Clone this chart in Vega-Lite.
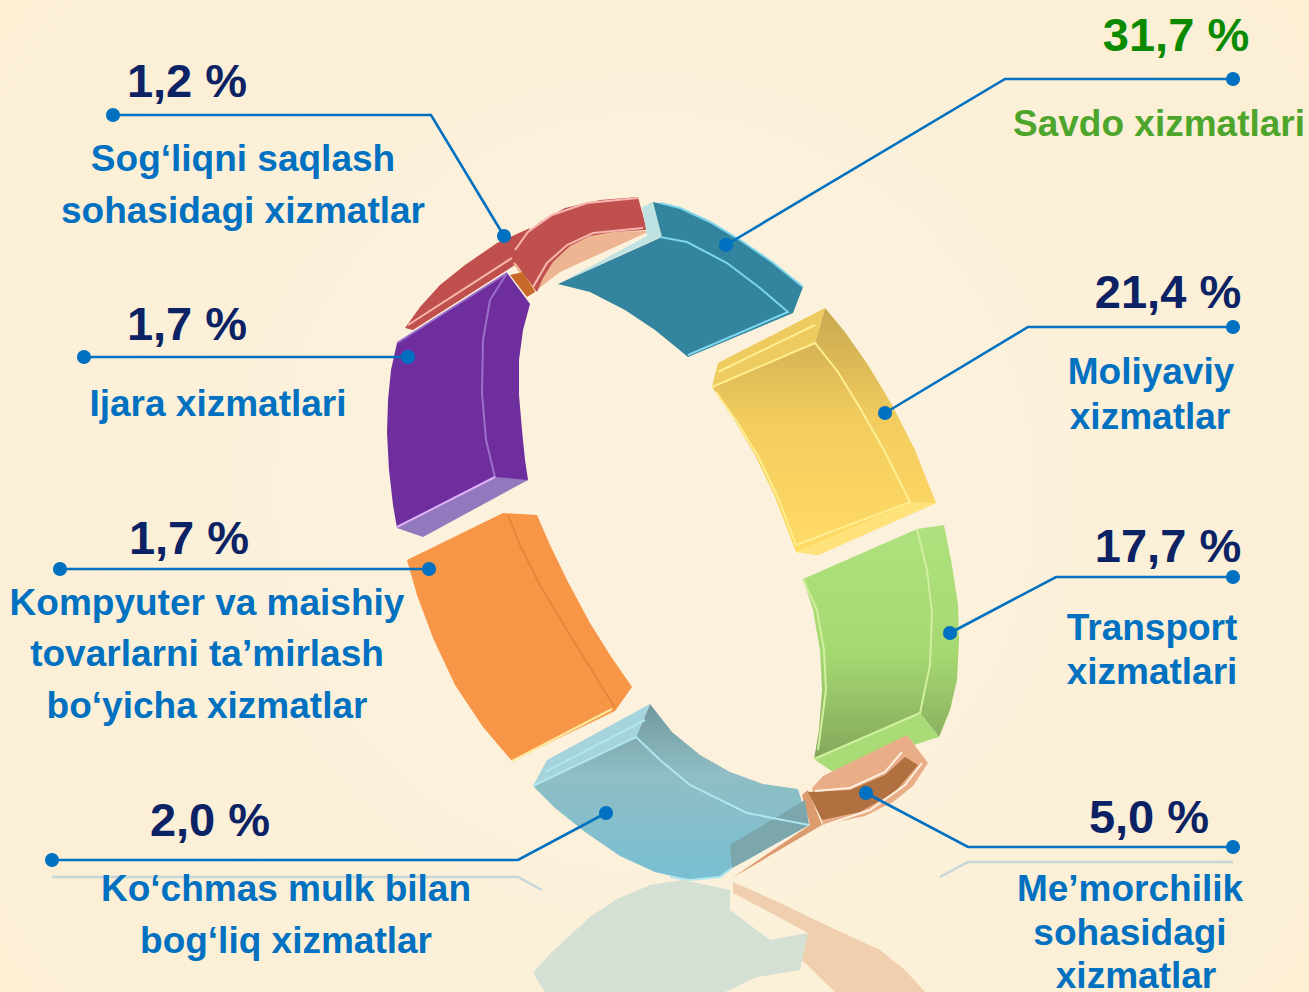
{"$schema":"https://vega.github.io/schema/vega-lite/v6.json","width":1309,"height":992,"autosize":"none","padding":0,"background":"#FBEFD6","config":{"view":{"stroke":null}},
"resolve":{"scale":{"color":"independent"}},
"datasets":{
"bg":[{"x":0,"x2":1309,"y":0,"y2":992}],
"flat":[
{"p":"reflBlue","i":1,"x":533,"y":973},{"p":"reflBlue","i":2,"x":548,"y":956},{"p":"reflBlue","i":3,"x":567,"y":938},{"p":"reflBlue","i":4,"x":590,"y":917},{"p":"reflBlue","i":5,"x":617,"y":899},{"p":"reflBlue","i":6,"x":650,"y":885},{"p":"reflBlue","i":7,"x":683,"y":880},{"p":"reflBlue","i":8,"x":730,"y":890},{"p":"reflBlue","i":9,"x":730,"y":910},{"p":"reflBlue","i":10,"x":770,"y":940},{"p":"reflBlue","i":11,"x":808,"y":933},{"p":"reflBlue","i":12,"x":800,"y":970},{"p":"reflBlue","i":13,"x":757,"y":977},{"p":"reflBlue","i":14,"x":725,"y":992},{"p":"reflBlue","i":15,"x":545,"y":992},
{"p":"reflPeach","i":1,"x":733,"y":882},{"p":"reflPeach","i":2,"x":780,"y":903},{"p":"reflPeach","i":3,"x":830,"y":927},{"p":"reflPeach","i":4,"x":880,"y":950},{"p":"reflPeach","i":5,"x":905,"y":970},{"p":"reflPeach","i":6,"x":925,"y":992},{"p":"reflPeach","i":7,"x":835,"y":992},{"p":"reflPeach","i":8,"x":802,"y":960},{"p":"reflPeach","i":9,"x":808,"y":933},{"p":"reflPeach","i":10,"x":775,"y":915},{"p":"reflPeach","i":11,"x":733,"y":893},
{"p":"redBack","i":1,"x":405,"y":328},{"p":"redBack","i":2,"x":420,"y":307},{"p":"redBack","i":3,"x":440,"y":285},{"p":"redBack","i":4,"x":465,"y":265},{"p":"redBack","i":5,"x":497,"y":243},{"p":"redBack","i":6,"x":530,"y":228},{"p":"redBack","i":7,"x":515,"y":265},{"p":"redBack","i":8,"x":413,"y":330},
{"p":"peach","i":1,"x":513,"y":263},{"p":"peach","i":2,"x":533,"y":293},{"p":"peach","i":3,"x":560,"y":272},{"p":"peach","i":4,"x":650,"y":231},{"p":"peach","i":5,"x":590,"y":232},{"p":"peach","i":6,"x":550,"y":252},
{"p":"orangeDark","i":1,"x":510,"y":275},{"p":"orangeDark","i":2,"x":523,"y":272},{"p":"orangeDark","i":3,"x":535,"y":292},{"p":"orangeDark","i":4,"x":527,"y":297},
{"p":"red","i":1,"x":512,"y":258},{"p":"red","i":2,"x":522,"y":238},{"p":"red","i":3,"x":540,"y":222},{"p":"red","i":4,"x":565,"y":208},{"p":"red","i":5,"x":600,"y":200},{"p":"red","i":6,"x":638,"y":197},{"p":"red","i":7,"x":647,"y":230},{"p":"red","i":8,"x":613,"y":232},{"p":"red","i":9,"x":590,"y":236},{"p":"red","i":10,"x":570,"y":246},{"p":"red","i":11,"x":553,"y":262},{"p":"red","i":12,"x":543,"y":278},{"p":"red","i":13,"x":537,"y":292},
{"p":"tealStrip","i":1,"x":642,"y":207},{"p":"tealStrip","i":2,"x":653,"y":202},{"p":"tealStrip","i":3,"x":662,"y":236},{"p":"tealStrip","i":4,"x":558,"y":284},{"p":"tealStrip","i":5,"x":647,"y":236},
{"p":"teal","i":1,"x":653,"y":202},{"p":"teal","i":2,"x":680,"y":208},{"p":"teal","i":3,"x":710,"y":222},{"p":"teal","i":4,"x":740,"y":240},{"p":"teal","i":5,"x":772,"y":262},{"p":"teal","i":6,"x":803,"y":287},{"p":"teal","i":7,"x":793,"y":313},{"p":"teal","i":8,"x":688,"y":357},{"p":"teal","i":9,"x":655,"y":330},{"p":"teal","i":10,"x":625,"y":310},{"p":"teal","i":11,"x":590,"y":292},{"p":"teal","i":12,"x":558,"y":284},{"p":"teal","i":13,"x":662,"y":237},
{"p":"purple","i":1,"x":397,"y":343},{"p":"purple","i":2,"x":507,"y":273},{"p":"purple","i":3,"x":530,"y":304},{"p":"purple","i":4,"x":523,"y":330},{"p":"purple","i":5,"x":519,"y":360},{"p":"purple","i":6,"x":519,"y":395},{"p":"purple","i":7,"x":522,"y":430},{"p":"purple","i":8,"x":525,"y":460},{"p":"purple","i":9,"x":528,"y":480},{"p":"purple","i":10,"x":397,"y":528},{"p":"purple","i":11,"x":393,"y":505},{"p":"purple","i":12,"x":389,"y":470},{"p":"purple","i":13,"x":387,"y":433},{"p":"purple","i":14,"x":388,"y":400},{"p":"purple","i":15,"x":391,"y":370},
{"p":"purpleStrip","i":1,"x":397,"y":528},{"p":"purpleStrip","i":2,"x":495,"y":477},{"p":"purpleStrip","i":3,"x":528,"y":480},{"p":"purpleStrip","i":4,"x":423,"y":537},
{"p":"orange","i":1,"x":407,"y":560},{"p":"orange","i":2,"x":503,"y":513},{"p":"orange","i":3,"x":537,"y":515},{"p":"orange","i":4,"x":550,"y":545},{"p":"orange","i":5,"x":568,"y":582},{"p":"orange","i":6,"x":590,"y":623},{"p":"orange","i":7,"x":610,"y":655},{"p":"orange","i":8,"x":632,"y":687},{"p":"orange","i":9,"x":615,"y":711},{"p":"orange","i":10,"x":512,"y":761},{"p":"orange","i":11,"x":483,"y":727},{"p":"orange","i":12,"x":455,"y":685},{"p":"orange","i":13,"x":433,"y":638},{"p":"orange","i":14,"x":417,"y":595},
{"p":"yellowTop","i":1,"x":712,"y":387},{"p":"yellowTop","i":2,"x":718,"y":363},{"p":"yellowTop","i":3,"x":825,"y":308},{"p":"yellowTop","i":4,"x":815,"y":343},
{"p":"yellowBottom","i":1,"x":796,"y":552},{"p":"yellowBottom","i":2,"x":818,"y":555},{"p":"yellowBottom","i":3,"x":936,"y":503},{"p":"yellowBottom","i":4,"x":910,"y":502},
{"p":"greenBottom","i":1,"x":814,"y":759},{"p":"greenBottom","i":2,"x":920,"y":713},{"p":"greenBottom","i":3,"x":939,"y":737},{"p":"greenBottom","i":4,"x":920,"y":743},{"p":"greenBottom","i":5,"x":833,"y":772},
{"p":"sliver","i":1,"x":802,"y":795},{"p":"sliver","i":2,"x":808,"y":790},{"p":"sliver","i":3,"x":822,"y":825},{"p":"sliver","i":4,"x":732,"y":878},{"p":"sliver","i":5,"x":810,"y":825},
{"p":"lens","i":1,"x":812,"y":788},{"p":"lens","i":2,"x":823,"y":776},{"p":"lens","i":3,"x":907,"y":735},{"p":"lens","i":4,"x":928,"y":763},{"p":"lens","i":5,"x":913,"y":786},{"p":"lens","i":6,"x":893,"y":802},{"p":"lens","i":7,"x":865,"y":816},{"p":"lens","i":8,"x":823,"y":825},
{"p":"brown","i":1,"x":808,"y":792},{"p":"brown","i":2,"x":850,"y":790},{"p":"brown","i":3,"x":885,"y":775},{"p":"brown","i":4,"x":905,"y":757},{"p":"brown","i":5,"x":918,"y":765},{"p":"brown","i":6,"x":895,"y":792},{"p":"brown","i":7,"x":860,"y":812},{"p":"brown","i":8,"x":822,"y":820}
],
"gradYellow":[
{"p":"main","i":1,"x":815,"y":343},{"p":"main","i":2,"x":825,"y":308},{"p":"main","i":3,"x":845,"y":332},{"p":"main","i":4,"x":868,"y":365},{"p":"main","i":5,"x":892,"y":405},{"p":"main","i":6,"x":915,"y":450},{"p":"main","i":7,"x":928,"y":483},{"p":"main","i":8,"x":936,"y":503},{"p":"main","i":9,"x":818,"y":555},{"p":"main","i":10,"x":796,"y":552},{"p":"main","i":11,"x":775,"y":497},{"p":"main","i":12,"x":755,"y":455},{"p":"main","i":13,"x":733,"y":418},{"p":"main","i":14,"x":712,"y":387}
],
"gradGreen":[
{"p":"main","i":1,"x":803,"y":579},{"p":"main","i":2,"x":917,"y":529},{"p":"main","i":3,"x":944,"y":525},{"p":"main","i":4,"x":952,"y":565},{"p":"main","i":5,"x":958,"y":605},{"p":"main","i":6,"x":959,"y":640},{"p":"main","i":7,"x":957,"y":680},{"p":"main","i":8,"x":950,"y":710},{"p":"main","i":9,"x":939,"y":737},{"p":"main","i":10,"x":920,"y":713},{"p":"main","i":11,"x":814,"y":759},{"p":"main","i":12,"x":819,"y":730},{"p":"main","i":13,"x":822,"y":690},{"p":"main","i":14,"x":820,"y":650},{"p":"main","i":15,"x":813,"y":610}
],
"gradBlue":[
{"p":"main","i":1,"x":533,"y":786},{"p":"main","i":2,"x":636,"y":737},{"p":"main","i":3,"x":650,"y":704},{"p":"main","i":4,"x":672,"y":732},{"p":"main","i":5,"x":700,"y":755},{"p":"main","i":6,"x":730,"y":772},{"p":"main","i":7,"x":763,"y":784},{"p":"main","i":8,"x":798,"y":789},{"p":"main","i":9,"x":809,"y":825},{"p":"main","i":10,"x":747,"y":860},{"p":"main","i":11,"x":732,"y":868},{"p":"main","i":12,"x":720,"y":877},{"p":"main","i":13,"x":690,"y":880},{"p":"main","i":14,"x":655,"y":872},{"p":"main","i":15,"x":620,"y":856},{"p":"main","i":16,"x":585,"y":832},{"p":"main","i":17,"x":555,"y":808}
],
"overlay":[
{"p":"blueTop","i":1,"x":533,"y":786},{"p":"blueTop","i":2,"x":547,"y":760},{"p":"blueTop","i":3,"x":650,"y":704},{"p":"blueTop","i":4,"x":636,"y":737},
{"p":"blueBack","i":1,"x":730,"y":845},{"p":"blueBack","i":2,"x":805,"y":800},{"p":"blueBack","i":3,"x":809,"y":825},{"p":"blueBack","i":4,"x":732,"y":868}
],
"highlights":[
{"p":"h1","c":"purpleLine","i":1,"x":507,"y":273},{"p":"h1","c":"purpleLine","i":2,"x":490,"y":300},{"p":"h1","c":"purpleLine","i":3,"x":483,"y":340},{"p":"h1","c":"purpleLine","i":4,"x":482,"y":393},{"p":"h1","c":"purpleLine","i":5,"x":486,"y":440},{"p":"h1","c":"purpleLine","i":6,"x":495,"y":477},
{"p":"h2","c":"purpleLight","i":1,"x":397,"y":527},{"p":"h2","c":"purpleLight","i":2,"x":495,"y":477},
{"p":"h3","c":"purpleLine","i":1,"x":397,"y":343},{"p":"h3","c":"purpleLine","i":2,"x":507,"y":273},
{"p":"h4","c":"pink","i":1,"x":408,"y":325},{"p":"h4","c":"pink","i":2,"x":512,"y":258},
{"p":"h5","c":"pink","i":1,"x":533,"y":287},{"p":"h5","c":"pink","i":2,"x":547,"y":263},{"p":"h5","c":"pink","i":3,"x":567,"y":245},{"p":"h5","c":"pink","i":4,"x":593,"y":233},{"p":"h5","c":"pink","i":5,"x":643,"y":228},
{"p":"h6","c":"pink","i":1,"x":515,"y":250},{"p":"h6","c":"pink","i":2,"x":528,"y":232},{"p":"h6","c":"pink","i":3,"x":552,"y":215},{"p":"h6","c":"pink","i":4,"x":587,"y":203},{"p":"h6","c":"pink","i":5,"x":638,"y":198},
{"p":"h7","c":"tealLine","i":1,"x":660,"y":237},{"p":"h7","c":"tealLine","i":2,"x":687,"y":242},{"p":"h7","c":"tealLine","i":3,"x":727,"y":263},{"p":"h7","c":"tealLine","i":4,"x":760,"y":288},{"p":"h7","c":"tealLine","i":5,"x":788,"y":312},{"p":"h7","c":"tealLine","i":6,"x":688,"y":355},
{"p":"h8","c":"tealLine","i":1,"x":660,"y":203},{"p":"h8","c":"tealLine","i":2,"x":680,"y":208},{"p":"h8","c":"tealLine","i":3,"x":710,"y":222},{"p":"h8","c":"tealLine","i":4,"x":740,"y":240},{"p":"h8","c":"tealLine","i":5,"x":772,"y":262},{"p":"h8","c":"tealLine","i":6,"x":803,"y":287},
{"p":"h9","c":"yellowLine","i":1,"x":712,"y":387},{"p":"h9","c":"yellowLine","i":2,"x":815,"y":343},{"p":"h9","c":"yellowLine","i":3,"x":838,"y":372},{"p":"h9","c":"yellowLine","i":4,"x":860,"y":408},{"p":"h9","c":"yellowLine","i":5,"x":885,"y":452},{"p":"h9","c":"yellowLine","i":6,"x":910,"y":502},{"p":"h9","c":"yellowLine","i":7,"x":796,"y":545},
{"p":"h10","c":"yellowLine","i":1,"x":718,"y":372},{"p":"h10","c":"yellowLine","i":2,"x":815,"y":325},
{"p":"h11","c":"yellowLine","i":1,"x":716,"y":392},{"p":"h11","c":"yellowLine","i":2,"x":737,"y":422},{"p":"h11","c":"yellowLine","i":3,"x":759,"y":458},{"p":"h11","c":"yellowLine","i":4,"x":779,"y":500},{"p":"h11","c":"yellowLine","i":5,"x":796,"y":545},
{"p":"h12","c":"greenLine","i":1,"x":917,"y":529},{"p":"h12","c":"greenLine","i":2,"x":927,"y":570},{"p":"h12","c":"greenLine","i":3,"x":932,"y":613},{"p":"h12","c":"greenLine","i":4,"x":930,"y":665},{"p":"h12","c":"greenLine","i":5,"x":920,"y":713},{"p":"h12","c":"greenLine","i":6,"x":814,"y":759},
{"p":"h13","c":"greenLine","i":1,"x":803,"y":579},{"p":"h13","c":"greenLine","i":2,"x":817,"y":610},{"p":"h13","c":"greenLine","i":3,"x":824,"y":650},{"p":"h13","c":"greenLine","i":4,"x":826,"y":690},{"p":"h13","c":"greenLine","i":5,"x":818,"y":750},
{"p":"h14","c":"orangeLine","i":1,"x":512,"y":761},{"p":"h14","c":"orangeLine","i":2,"x":612,"y":709},
{"p":"h15","c":"orangeEdge","i":1,"x":508,"y":515},{"p":"h15","c":"orangeEdge","i":2,"x":520,"y":545},{"p":"h15","c":"orangeEdge","i":3,"x":540,"y":585},{"p":"h15","c":"orangeEdge","i":4,"x":570,"y":635},{"p":"h15","c":"orangeEdge","i":5,"x":615,"y":708},
{"p":"h16","c":"blueLine","i":1,"x":533,"y":786},{"p":"h16","c":"blueLine","i":2,"x":636,"y":737},{"p":"h16","c":"blueLine","i":3,"x":660,"y":760},{"p":"h16","c":"blueLine","i":4,"x":690,"y":785},{"p":"h16","c":"blueLine","i":5,"x":747,"y":813},{"p":"h16","c":"blueLine","i":6,"x":809,"y":825},
{"p":"h17","c":"blueLine","i":1,"x":545,"y":772},{"p":"h17","c":"blueLine","i":2,"x":645,"y":720},
{"p":"h18","c":"blueLine","i":1,"x":732,"y":868},{"p":"h18","c":"blueLine","i":2,"x":720,"y":877},{"p":"h18","c":"blueLine","i":3,"x":690,"y":880},{"p":"h18","c":"blueLine","i":4,"x":670,"y":877},
{"p":"h19","c":"peachLine","i":1,"x":815,"y":791},{"p":"h19","c":"peachLine","i":2,"x":850,"y":788},{"p":"h19","c":"peachLine","i":3,"x":885,"y":772},{"p":"h19","c":"peachLine","i":4,"x":902,"y":752},
{"p":"h20","c":"peachLine","i":1,"x":825,"y":825},{"p":"h20","c":"peachLine","i":2,"x":870,"y":810},{"p":"h20","c":"peachLine","i":3,"x":905,"y":785},{"p":"h20","c":"peachLine","i":4,"x":922,"y":763}
],
"leaders":[
{"s":"Savdo xizmatlari","i":1,"x":726,"y":245},{"s":"Savdo xizmatlari","i":2,"x":1005,"y":79},{"s":"Savdo xizmatlari","i":3,"x":1233,"y":79},
{"s":"Moliyaviy xizmatlar","i":1,"x":885,"y":413},{"s":"Moliyaviy xizmatlar","i":2,"x":1028,"y":327},{"s":"Moliyaviy xizmatlar","i":3,"x":1233,"y":327},
{"s":"Transport xizmatlari","i":1,"x":950,"y":633},{"s":"Transport xizmatlari","i":2,"x":1056,"y":577},{"s":"Transport xizmatlari","i":3,"x":1233,"y":577},
{"s":"Me’morchilik","i":1,"x":866,"y":793},{"s":"Me’morchilik","i":2,"x":968,"y":847},{"s":"Me’morchilik","i":3,"x":1233,"y":847},
{"s":"Ko‘chmas mulk","i":1,"x":606,"y":813},{"s":"Ko‘chmas mulk","i":2,"x":518,"y":860},{"s":"Ko‘chmas mulk","i":3,"x":52,"y":860},
{"s":"Kompyuter","i":1,"x":429,"y":569},{"s":"Kompyuter","i":2,"x":250,"y":569},{"s":"Kompyuter","i":3,"x":60,"y":569},
{"s":"Ijara","i":1,"x":408,"y":357},{"s":"Ijara","i":2,"x":250,"y":357},{"s":"Ijara","i":3,"x":84,"y":357},
{"s":"Sog‘liqni","i":1,"x":504,"y":236},{"s":"Sog‘liqni","i":2,"x":431,"y":115},{"s":"Sog‘liqni","i":3,"x":113,"y":115}
],
"leaderRefl":[
{"s":"left","i":1,"x":52,"y":877},{"s":"left","i":2,"x":518,"y":877},{"s":"left","i":3,"x":542,"y":890},
{"s":"right","i":1,"x":1233,"y":862},{"s":"right","i":2,"x":968,"y":862},{"s":"right","i":3,"x":940,"y":877}
],
"labels":[
{"t":"31,7 %","r":"pct","h":"top","x":1176,"y":51},{"t":"Savdo xizmatlari","r":"name","h":"top","x":1159,"y":136},
{"t":"21,4 %","r":"pct","h":"other","x":1168,"y":308},{"t":"Moliyaviy","r":"name","h":"other","x":1151,"y":384},{"t":"xizmatlar","r":"name","h":"other","x":1150,"y":429},
{"t":"17,7 %","r":"pct","h":"other","x":1168,"y":562},{"t":"Transport","r":"name","h":"other","x":1152,"y":640},{"t":"xizmatlari","r":"name","h":"other","x":1152,"y":684},
{"t":"5,0 %","r":"pct","h":"other","x":1149,"y":833},{"t":"Me’morchilik","r":"name","h":"other","x":1130,"y":901},{"t":"sohasidagi","r":"name","h":"other","x":1130,"y":945},{"t":"xizmatlar","r":"name","h":"other","x":1136,"y":988},
{"t":"1,2 %","r":"pct","h":"other","x":187,"y":97},{"t":"Sog‘liqni saqlash","r":"name","h":"other","x":243,"y":171},{"t":"sohasidagi xizmatlar","r":"name","h":"other","x":243,"y":223},
{"t":"1,7 %","r":"pct","h":"other","x":187,"y":340},{"t":"Ijara xizmatlari","r":"name","h":"other","x":218,"y":416},
{"t":"1,7 %","r":"pct","h":"other","x":189,"y":554},{"t":"Kompyuter va maishiy","r":"name","h":"other","x":207,"y":615},{"t":"tovarlarni ta’mirlash","r":"name","h":"other","x":207,"y":666},{"t":"bo‘yicha xizmatlar","r":"name","h":"other","x":207,"y":718},
{"t":"2,0 %","r":"pct","h":"other","x":210,"y":836},{"t":"Ko‘chmas mulk bilan","r":"name","h":"other","x":286,"y":901},{"t":"bog‘liq xizmatlar","r":"name","h":"other","x":286,"y":953}
]},
"encoding":{
"x":{"field":"x","type":"quantitative","scale":{"domain":[0,1309]},"axis":null},
"y":{"field":"y","type":"quantitative","scale":{"domain":[992,0]},"axis":null}},
"layer":[
{"data":{"name":"bg"},"mark":{"type":"rect","fill":{"gradient":"radial","x1":0.5,"y1":0.5,"x2":0.5,"y2":0.5,"r1":0.2,"r2":0.8,"stops":[{"offset":0,"color":"#FCF1DC"},{"offset":1,"color":"#FAEDD0"}]}},"encoding":{"x2":{"field":"x2"},"y2":{"field":"y2"}}},
{"data":{"name":"leaderRefl"},"mark":{"type":"line","stroke":"#B9D0D8","strokeWidth":2.5,"opacity":0.8},"encoding":{"detail":{"field":"s"},"order":{"field":"i"}}},
{"data":{"name":"gradGreen"},"mark":{"type":"line","filled":true,"stroke":null,"fill":{"gradient":"linear","x1":0,"y1":0,"x2":0,"y2":1,"stops":[{"offset":0,"color":"#AFE27E"},{"offset":0.55,"color":"#A6D872"},{"offset":1,"color":"#84A75B"}]}},"encoding":{"detail":{"field":"p"},"order":{"field":"i"}}},
{"data":{"name":"gradYellow"},"mark":{"type":"line","filled":true,"stroke":null,"fill":{"gradient":"linear","x1":0,"y1":0,"x2":0,"y2":1,"stops":[{"offset":0,"color":"#C8A850"},{"offset":0.45,"color":"#F2CC5E"},{"offset":1,"color":"#FFDB66"}]}},"encoding":{"detail":{"field":"p"},"order":{"field":"i"}}},
{"data":{"name":"flat"},"mark":{"type":"line","filled":true,"stroke":null},"encoding":{"detail":{"field":"p"},"order":{"field":"i"},"color":{"field":"p","type":"nominal","legend":null,"scale":{"domain":["reflBlue","reflPeach","redBack","peach","orangeDark","red","tealStrip","teal","purple","purpleStrip","orange","yellowTop","yellowBottom","greenBottom","sliver","lens","brown"],"range":["#D3E0D3","#EFCFAD","#C0504D","#EDB592","#C8692A","#C0504D","#BFE3E3","#33849F","#6E2E9E","#9278BC","#F79646","#EDCB5E","#FFE37A","#A9DC76","#DC9B6C","#E9AE87","#B0703F"]}}}},
{"data":{"name":"gradBlue"},"mark":{"type":"line","filled":true,"stroke":null,"fill":{"gradient":"linear","x1":0,"y1":0,"x2":0,"y2":1,"stops":[{"offset":0,"color":"#70989E"},{"offset":0.4,"color":"#90BEC4"},{"offset":1,"color":"#78BFD3"}]}},"encoding":{"detail":{"field":"p"},"order":{"field":"i"}}},
{"data":{"name":"overlay"},"mark":{"type":"line","filled":true,"stroke":null},"encoding":{"detail":{"field":"p"},"order":{"field":"i"},"color":{"field":"p","type":"nominal","legend":null,"scale":{"domain":["blueTop","blueBack"],"range":["#A5D4DC","#7BA6AB"]}}}},
{"data":{"name":"highlights"},"mark":{"type":"line","strokeWidth":2},"encoding":{"detail":{"field":"p"},"order":{"field":"i"},"color":{"field":"c","type":"nominal","legend":null,"scale":{"domain":["purpleLine","purpleLight","pink","tealLine","yellowLine","greenLine","orangeLine","orangeEdge","blueLine","peachLine"],"range":["#9B70CC","#E0B0F8","#F7B6B0","#7CD6EC","#FFEE90","#D0F0A0","#FFE9A0","#E8853A","#B0E6EE","#FFF0E0"]}}}},
{"data":{"name":"leaders"},"mark":{"type":"line","stroke":"#0070C0","strokeWidth":2.6},"encoding":{"detail":{"field":"s"},"order":{"field":"i"}}},
{"data":{"name":"leaders"},"transform":[{"filter":"datum.i!=2"}],"mark":{"type":"point","filled":true,"opacity":1,"color":"#0070C0","size":200}},
{"data":{"name":"labels"},"transform":[{"filter":"datum.r=='pct'"}],"mark":{"type":"text","font":"Liberation Sans","fontWeight":"bold","fontSize":47,"align":"center","baseline":"alphabetic"},"encoding":{"text":{"field":"t"},"color":{"field":"h","type":"nominal","legend":null,"scale":{"domain":["top","other"],"range":["#0A8A00","#0B2265"]}}}},
{"data":{"name":"labels"},"transform":[{"filter":"datum.r=='name'"}],"mark":{"type":"text","font":"Liberation Sans","fontWeight":"bold","fontSize":37,"align":"center","baseline":"alphabetic"},"encoding":{"text":{"field":"t"},"color":{"field":"h","type":"nominal","legend":null,"scale":{"domain":["top","other"],"range":["#4EA52C","#0070C0"]}}}}
]}
